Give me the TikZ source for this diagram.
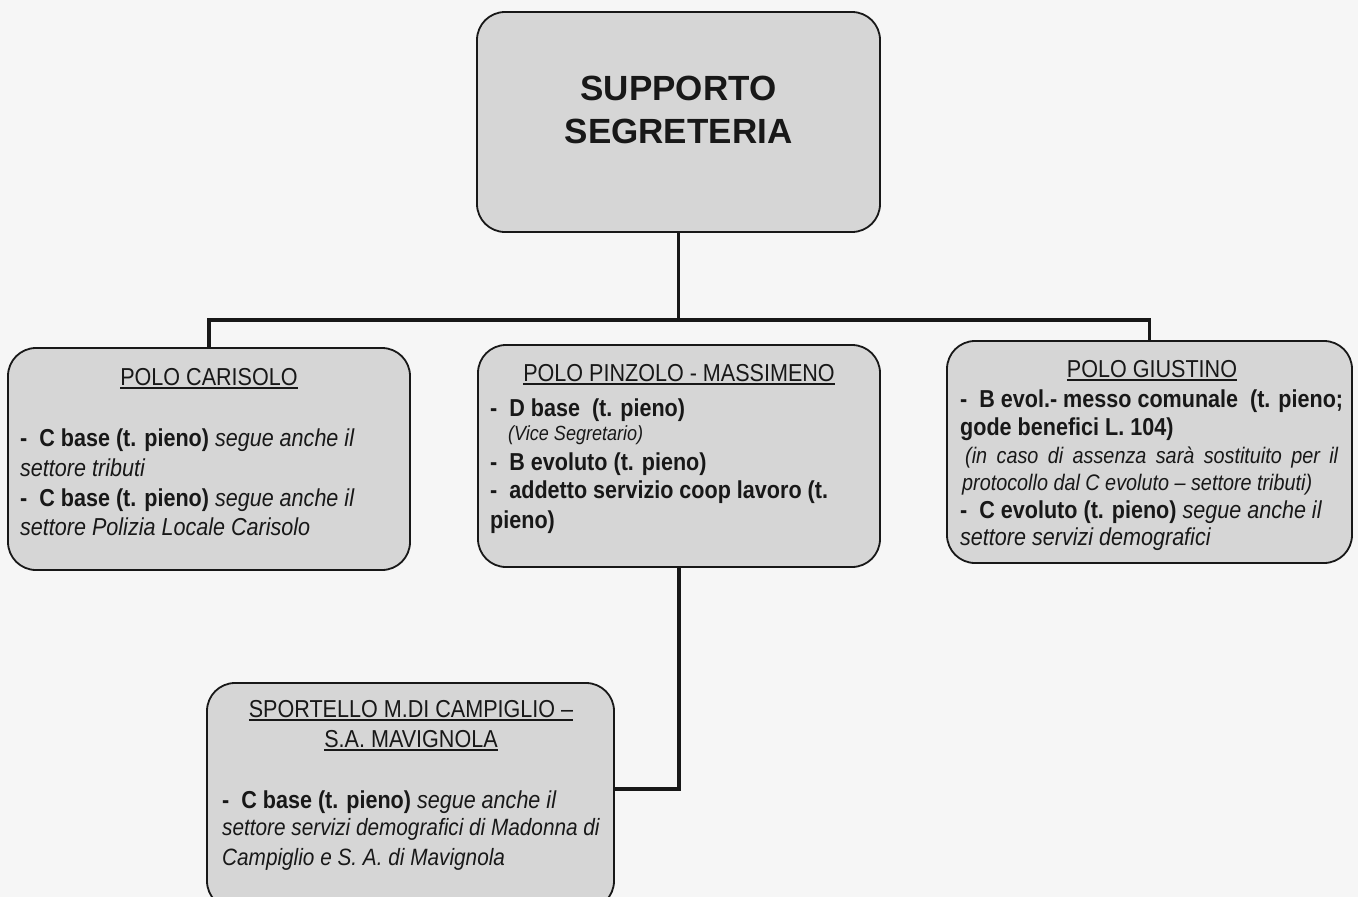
\documentclass[tikz,border=0pt]{standalone}
\usepackage{fontspec}
\setmainfont{Liberation Sans}
\newfontfamily\narfont{Liberation Sans}[FakeStretch=0.88,Ligatures=TeX]
\usetikzlibrary{calc}
\definecolor{boxfill}{RGB}{214,214,214}
\definecolor{paper}{RGB}{246,246,246}
\definecolor{ink}{RGB}{24,24,24}
\newcommand\ulhead[1]{\setbox0\hbox{#1}\rlap{\rule[-4pt]{\wd0}{1.6pt}}\box0}
\tikzset{
  box/.style={draw=ink, line width=1.8pt, fill=boxfill, rounded corners=28pt, inner sep=0pt},
  conn/.style={draw=ink, line width=3.5pt, line join=miter},
  ttl/.style={inner sep=0pt, anchor=base, text=ink, font=\bfseries\fontsize{35}{42}\selectfont},
  hd/.style={inner sep=0pt, anchor=base, text=ink, font=\narfont\fontsize{24.5}{29}\selectfont},
  tx/.style={inner sep=0pt, anchor=base west, text=ink, font=\narfont\fontsize{24.5}{29}\selectfont},
  sm/.style={inner sep=0pt, anchor=base west, text=ink, font=\narfont\itshape\fontsize{20.5}{24}\selectfont},
  smb/.style={inner sep=0pt, anchor=base west, text=ink, font=\narfont\itshape\fontsize{22.5}{26}\selectfont},
  txi/.style={inner sep=0pt, anchor=base west, text=ink, font=\narfont\itshape\fontsize{23.6}{28}\selectfont}
}
\begin{document}
\begin{tikzpicture}[x=1pt,y=-1pt]
\useasboundingbox (0,0) rectangle (1358,897);
\fill[paper] (0,0) rectangle (1358,897);

% boxes
\node[box, minimum width=403pt, minimum height=220pt] (top) at (678.5,122) {};
\node[box, minimum width=402pt, minimum height=222pt] (left) at (209,459) {};
\node[box, minimum width=402pt, minimum height=222pt] (mid) at (679,456) {};
\node[box, minimum width=405pt, minimum height=222pt] (right) at (1149.5,452) {};
\node[box, minimum width=407pt, minimum height=226pt] (bot) at (410.5,796) {};

% connectors
\coordinate (bar) at (678.5,320);
\coordinate (jn) at (614,789);
\draw[conn] (top.south) -- (bar);
\draw[conn] (left.north) |- (bar) -| (right.north);
\draw[conn] (mid.south) |- (jn);

% title
\node[ttl] (t1) at (678.5,100) {SUPPORTO};
\node[ttl] (t2) at (678.5,143) {SEGRETERIA};

% left box
\node[hd] (lh) at (209,385) {\ulhead{POLO CARISOLO}};
\node[tx] (l1) at (20,446) {\textbf{-\ \ C base (t. pieno)} \textit{segue anche il}};
\node[tx] (l2) at (20,476) {\textit{settore tributi}};
\node[tx] (l3) at (20,506) {\textbf{-\ \ C base (t. pieno)} \textit{segue anche il}};
\node[tx] (l4) at (20,535) {\textit{settore Polizia Locale Carisolo}};

% middle box
\node[hd] (mh) at (679,381) {\ulhead{POLO PINZOLO - MASSIMENO}};
\node[tx] (m1) at (490,416) {\textbf{-\ \ D base\ \ (t. pieno)}};
\node[sm] (m2) at (508,440) {(Vice Segretario)};
\node[tx] (m3) at (490,470) {\textbf{-\ \ B evoluto (t. pieno)}};
\node[tx] (m4) at (490,498) {\textbf{-\ \ addetto servizio coop lavoro (t.}};
\node[tx] (m5) at (490,528) {\textbf{pieno)}};

% right box
\node[hd] (rh) at (1152,377) {\ulhead{POLO GIUSTINO}};
\node[tx] (r1) at (960,407) {\textbf{-\ \ B evol.- messo comunale\ \ (t. pieno;}};
\node[tx] (r2) at (960,435) {\textbf{gode benefici L. 104)}};
\node[smb] (r3) at (965,463) {\makebox[373pt][s]{(in caso di assenza sarà sostituito per il}};
\node[smb] (r4) at (962,490) {protocollo dal C evoluto – settore tributi)};
\node[tx] (r5) at (960,518) {\textbf{-\ \ C evoluto (t. pieno)} \textit{segue anche il}};
\node[tx] (r6) at (960,545) {\textit{settore servizi demografici}};

% bottom box
\node[hd] (bh1) at (411,717) {\ulhead{SPORTELLO M.DI CAMPIGLIO –}};
\node[hd] (bh2) at (411,747) {\ulhead{S.A. MAVIGNOLA}};
\node[tx] (b1) at (222,808) {\textbf{-\ \ C base (t. pieno)} \textit{segue anche il}};
\node[txi] (b2) at (222,835) {settore servizi demografici di Madonna di};
\node[txi] (b3) at (222,865) {Campiglio e S. A. di Mavignola};
\end{tikzpicture}
\end{document}
